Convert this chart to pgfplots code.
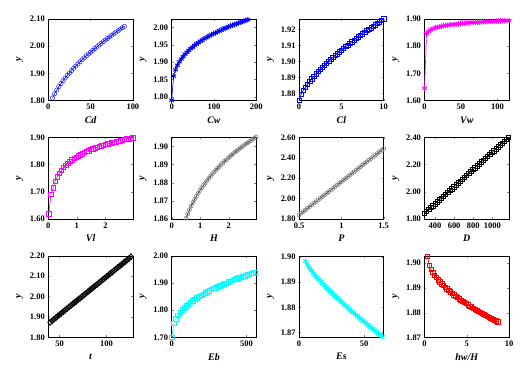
\documentclass[border=0pt]{standalone}
\usepackage{fontspec}
\setmainfont{Liberation Serif}
\usepackage{pgfplots}
\pgfplotsset{compat=1.18}
\definecolor{mblue}{RGB}{0,0,255}
\definecolor{mmag}{RGB}{255,0,255}
\definecolor{mcyan}{RGB}{0,255,255}
\definecolor{mred}{RGB}{255,0,0}
\begin{document}
\pgfplotsset{
  panel/.style={
    scale only axis, width=85pt, height=82pt, anchor=north west,
    tick align=inside, major tick length=2pt,
    /pgf/number format/assume math mode=true,
    /pgf/number format/1000 sep={},
    scaled ticks=false,
    ticklabel style={font=\fontsize{8.5}{9}\selectfont\bfseries},
    label style={font=\fontsize{10}{11}\selectfont\bfseries\itshape},
    ylabel={y},
    yticklabel style={/pgf/number format/.cd, fixed, fixed zerofill, precision=2},
    clip=false,
    every axis plot/.append style={line width=0.6pt},
  },
}
\begin{tikzpicture}
\path[use as bounding box] (0pt,0pt) rectangle (527pt,-377pt);
% row 1
\begin{axis}[panel, at={(46pt,-19pt)}, xmin=0, xmax=100, ymin=1.8, ymax=2.1,
  xtick={0,50,100}, ytick={1.8,1.9,2.0,2.1}, xlabel={Cd}]
\addplot[mblue, mark=o, mark size=2.2pt, mark options={line width=0.4pt}] coordinates {(5,1.8095)(7.5,1.8250)(10,1.8386)(12.5,1.8508)(15,1.8622)(17.5,1.8727)(20,1.8827)(22.5,1.8922)(25,1.9013)(27.5,1.9101)(30,1.9185)(32.5,1.9266)(35,1.9345)(37.5,1.9422)(40,1.9496)(42.5,1.9569)(45,1.9640)(47.5,1.9710)(50,1.9778)(52.5,1.9845)(55,1.9910)(57.5,1.9975)(60,2.0038)(62.5,2.0100)(65,2.0161)(67.5,2.0222)(70,2.0281)(72.5,2.0340)(75,2.0397)(77.5,2.0454)(80,2.0511)(82.5,2.0566)(85,2.0621)(87.5,2.0675)(90,2.0729)};
\end{axis}
\begin{axis}[panel, at={(170pt,-19pt)}, xmin=0, xmax=200, ymin=1.79, ymax=2.024,
  xtick={0,100,200}, ytick={1.80,1.85,1.90,1.95,2.00}, xlabel={Cw}]
\addplot[mblue, mark=asterisk, mark size=2.8pt, mark options={line width=0.9pt}] coordinates {(0,1.791)(4.5,1.860)(9,1.878)(13.5,1.891)(18,1.901)(22.5,1.909)(27,1.916)(31.5,1.923)(36,1.928)(40.5,1.934)(45,1.939)(49.5,1.943)(54,1.948)(58.5,1.952)(63,1.956)(67.5,1.960)(72,1.963)(76.5,1.967)(81,1.970)(85.5,1.973)(90,1.976)(94.5,1.979)(99,1.982)(103.5,1.984)(108,1.987)(112.5,1.990)(117,1.992)(121.5,1.995)(126,1.997)(130.5,1.999)(135,2.002)(139.5,2.004)(144,2.006)(148.5,2.008)(153,2.010)(157.5,2.012)(162,2.014)(166.5,2.016)(171,2.018)(175.5,2.020)(180,2.022)};
\end{axis}
\begin{axis}[panel, at={(298pt,-19pt)}, xmin=0, xmax=10, ymin=1.8755, ymax=1.9265,
  xtick={0,5,10}, ytick={1.88,1.89,1.90,1.91,1.92}, xlabel={Cl}]
\addplot[mblue, mark=square, mark size=2.2pt] coordinates {(0,1.8755)(0.25,1.8794)(0.5,1.8819)(0.75,1.8839)(1,1.8858)(1.25,1.8875)(1.5,1.8891)(1.75,1.8907)(2,1.8922)(2.25,1.8936)(2.5,1.8950)(2.75,1.8963)(3,1.8976)(3.25,1.8988)(3.5,1.9001)(3.75,1.9013)(4,1.9025)(4.25,1.9036)(4.5,1.9048)(4.75,1.9059)(5,1.9070)(5.25,1.9081)(5.5,1.9092)(5.75,1.9102)(6,1.9113)(6.25,1.9123)(6.5,1.9133)(6.75,1.9143)(7,1.9153)(7.25,1.9163)(7.5,1.9173)(7.75,1.9182)(8,1.9192)(8.25,1.9201)(8.5,1.9210)(8.75,1.9220)(9,1.9229)(9.25,1.9238)(9.5,1.9247)(9.75,1.9256)(10,1.9265)};
\end{axis}
\begin{axis}[panel, at={(424pt,-19pt)}, xmin=0, xmax=116, ymin=1.6, ymax=1.9,
  xtick={0,50,100}, ytick={1.6,1.7,1.8,1.9}, xlabel={Vw}]
\addplot[mmag, mark=asterisk, mark size=2.8pt, mark options={line width=0.9pt}] coordinates {(0,1.645)(2.9,1.846)(5.8,1.855)(8.7,1.860)(11.6,1.864)(14.5,1.867)(17.4,1.869)(20.3,1.871)(23.2,1.873)(26.1,1.875)(29,1.876)(31.9,1.877)(34.8,1.878)(37.7,1.879)(40.6,1.880)(43.5,1.881)(46.4,1.882)(49.3,1.883)(52.2,1.884)(55.1,1.884)(58,1.885)(60.9,1.886)(63.8,1.886)(66.7,1.887)(69.6,1.887)(72.5,1.888)(75.4,1.888)(78.3,1.889)(81.2,1.889)(84.1,1.890)(87,1.890)(89.9,1.891)(92.8,1.891)(95.7,1.891)(98.6,1.892)(101.5,1.892)(104.4,1.893)(107.3,1.893)(110.2,1.893)(113.1,1.894)(116,1.894)};
\end{axis}
% row 2
\begin{axis}[panel, at={(46pt,-138pt)}, xmin=0, xmax=2.96, ymin=1.6, ymax=1.9,
  xtick={0,1,2}, ytick={1.6,1.7,1.8,1.9}, xlabel={Vl}]
\addplot[mmag, mark=square, mark size=2.2pt] coordinates {(0.02,1.619)(0.0935,1.690)(0.167,1.714)(0.2405,1.738)(0.314,1.755)(0.3875,1.768)(0.461,1.779)(0.5345,1.789)(0.608,1.797)(0.6815,1.804)(0.755,1.811)(0.8285,1.817)(0.902,1.822)(0.9755,1.827)(1.049,1.832)(1.1225,1.836)(1.196,1.840)(1.2695,1.844)(1.343,1.848)(1.4165,1.851)(1.49,1.855)(1.5635,1.858)(1.637,1.861)(1.7105,1.863)(1.784,1.866)(1.8575,1.869)(1.931,1.871)(2.0045,1.874)(2.078,1.876)(2.1515,1.878)(2.225,1.880)(2.2985,1.882)(2.372,1.884)(2.4455,1.886)(2.519,1.888)(2.5925,1.890)(2.666,1.892)(2.7395,1.894)(2.813,1.895)(2.8865,1.897)(2.96,1.898)};
\end{axis}
\begin{axis}[panel, at={(170pt,-138pt)}, xmin=0, xmax=2.96, ymin=1.86, ymax=1.905,
  xtick={0,1,2}, ytick={1.86,1.87,1.88,1.89,1.90}, xlabel={H}]
\addplot[black, mark=o, mark size=2pt, mark options={draw=gray}] coordinates {(0.5,1.8604)(0.56125,1.8628)(0.6225,1.8651)(0.68375,1.8672)(0.745,1.8691)(0.80625,1.8709)(0.8675,1.8726)(0.92875,1.8742)(0.99,1.8758)(1.05125,1.8772)(1.1125,1.8786)(1.17375,1.8799)(1.235,1.8812)(1.29625,1.8824)(1.3575,1.8836)(1.41875,1.8847)(1.48,1.8858)(1.54125,1.8869)(1.6025,1.8879)(1.66375,1.8889)(1.725,1.8899)(1.78625,1.8908)(1.8475,1.8918)(1.90875,1.8926)(1.97,1.8935)(2.03125,1.8944)(2.0925,1.8952)(2.15375,1.8960)(2.215,1.8968)(2.27625,1.8976)(2.3375,1.8983)(2.39875,1.8991)(2.46,1.8998)(2.52125,1.9005)(2.5825,1.9012)(2.64375,1.9019)(2.705,1.9026)(2.76625,1.9032)(2.8275,1.9039)(2.88875,1.9045)(2.95,1.9051)};
\end{axis}
\begin{axis}[panel, at={(298pt,-138pt)}, xmin=0.5, xmax=1.5, ymin=1.8, ymax=2.6,
  xtick={0.5,1,1.5}, ytick={1.8,2.0,2.2,2.4,2.6}, xlabel={P}]
\addplot[black, mark=o, mark size=2pt, mark options={draw=gray}] coordinates {(0.5,1.8400)(0.525,1.8563)(0.55,1.8725)(0.575,1.8888)(0.6,1.9050)(0.625,1.9213)(0.65,1.9375)(0.675,1.9538)(0.7,1.9700)(0.725,1.9863)(0.75,2.0025)(0.775,2.0188)(0.8,2.0350)(0.825,2.0513)(0.85,2.0675)(0.875,2.0838)(0.9,2.1000)(0.925,2.1163)(0.95,2.1325)(0.975,2.1488)(1.0,2.1650)(1.025,2.1813)(1.05,2.1975)(1.075,2.2138)(1.1,2.2300)(1.125,2.2463)(1.15,2.2625)(1.175,2.2788)(1.2,2.2950)(1.225,2.3113)(1.25,2.3275)(1.275,2.3438)(1.3,2.3600)(1.325,2.3763)(1.35,2.3925)(1.375,2.4088)(1.4,2.4250)(1.425,2.4413)(1.45,2.4575)(1.475,2.4738)(1.5,2.4900)};
\end{axis}
\begin{axis}[panel, at={(424pt,-138pt)}, xmin=290, xmax=1175, ymin=1.8, ymax=2.4,
  xtick={400,600,800,1000}, ytick={1.8,2.0,2.2,2.4}, xlabel={D}]
\addplot[black, mark=square, mark size=2.2pt] coordinates {(290,1.842)(312,1.856)(334,1.870)(356,1.884)(378,1.898)(400,1.912)(422,1.926)(444,1.940)(466,1.954)(488,1.968)(510,1.982)(532,1.995)(554,2.009)(576,2.023)(598,2.037)(620,2.051)(642,2.065)(664,2.079)(686,2.093)(708,2.107)(730,2.121)(752,2.135)(774,2.149)(796,2.163)(818,2.177)(840,2.191)(862,2.205)(884,2.219)(906,2.233)(928,2.247)(950,2.261)(972,2.274)(994,2.288)(1016,2.302)(1038,2.316)(1060,2.330)(1082,2.344)(1104,2.358)(1126,2.372)(1148,2.386)(1170,2.400)};
\end{axis}
% row 3
\begin{axis}[panel, at={(46pt,-257pt)}, xmin=38, xmax=128, ymin=1.8, ymax=2.2,
  xtick={50,100}, ytick={1.8,1.9,2.0,2.1,2.2}, xlabel={t}]
\addplot[black, mark=diamond, mark size=3pt, mark options={line width=0.9pt}] coordinates {(40,1.874)(42,1.881)(44,1.889)(46,1.896)(48,1.904)(50,1.911)(52,1.919)(54,1.926)(56,1.934)(58,1.941)(60,1.949)(62,1.956)(64,1.964)(66,1.971)(68,1.978)(70,1.986)(72,1.993)(74,2.001)(76,2.008)(78,2.016)(80,2.023)(82,2.031)(84,2.038)(86,2.046)(88,2.053)(90,2.060)(92,2.068)(94,2.075)(96,2.083)(98,2.090)(100,2.098)(102,2.105)(104,2.113)(106,2.120)(108,2.128)(110,2.135)(112,2.143)(114,2.150)(116,2.157)(118,2.165)(120,2.172)(122,2.180)(124,2.187)(126,2.195)};
\end{axis}
\begin{axis}[panel, at={(170pt,-257pt)}, xmin=0, xmax=565, ymin=1.7, ymax=2.0,
  xtick={0,500}, ytick={1.7,1.8,1.9,2.0}, xlabel={Eb}]
\addplot[mcyan, mark=square, mark size=2.2pt] coordinates {(0,1.700)(14,1.751)(28,1.769)(42,1.781)(56,1.792)(70,1.801)(84,1.809)(98,1.816)(112,1.822)(126,1.829)(140,1.834)(154,1.840)(168,1.845)(182,1.850)(196,1.855)(210,1.859)(224,1.864)(238,1.868)(252,1.872)(266,1.876)(280,1.880)(294,1.883)(308,1.887)(322,1.890)(336,1.894)(350,1.897)(364,1.900)(378,1.904)(392,1.907)(406,1.910)(420,1.913)(434,1.916)(448,1.919)(462,1.921)(476,1.924)(490,1.927)(504,1.930)(518,1.932)(532,1.935)(546,1.937)(560,1.940)};
\end{axis}
\begin{axis}[panel, at={(298pt,-257pt)}, xmin=0, xmax=65, ymin=1.868, ymax=1.9005,
  xtick={0,50}, ytick={1.87,1.88,1.89,1.90}, xlabel={Es}]
\addplot[mcyan, mark=asterisk, mark size=3pt, mark options={line width=1pt}] coordinates {(5,1.8983)(6.5,1.8968)(7.9,1.8956)(9.4,1.8946)(10.9,1.8936)(12.4,1.8927)(13.9,1.8918)(15.3,1.8910)(16.8,1.8901)(18.3,1.8893)(19.8,1.8885)(21.2,1.8877)(22.7,1.8869)(24.2,1.8862)(25.7,1.8854)(27.1,1.8847)(28.6,1.8840)(30.1,1.8833)(31.6,1.8826)(33.0,1.8819)(34.5,1.8812)(36.0,1.8805)(37.5,1.8798)(38.9,1.8791)(40.4,1.8784)(41.9,1.8778)(43.4,1.8771)(44.8,1.8765)(46.3,1.8758)(47.8,1.8752)(49.3,1.8745)(50.7,1.8739)(52.2,1.8732)(53.7,1.8726)(55.2,1.8720)(56.6,1.8714)(58.1,1.8708)(59.6,1.8701)(61.1,1.8695)(62.5,1.8689)(64,1.8683)};
\end{axis}
\begin{axis}[panel, at={(424pt,-257pt)}, xmin=0, xmax=10, ymin=1.87, ymax=1.903,
  xtick={0,5,10}, ytick={1.87,1.88,1.89,1.90}, xlabel={hw/H}]
\addplot[mred, mark=square, mark size=2.2pt] coordinates {(0.36,1.9027)(0.568,1.8992)(0.776,1.8976)(0.984,1.8963)(1.192,1.8952)(1.4,1.8942)(1.608,1.8933)(1.816,1.8925)(2.024,1.8917)(2.232,1.8910)(2.44,1.8903)(2.648,1.8897)(2.856,1.8890)(3.064,1.8884)(3.272,1.8878)(3.48,1.8872)(3.688,1.8867)(3.896,1.8862)(4.104,1.8856)(4.312,1.8851)(4.52,1.8846)(4.728,1.8841)(4.936,1.8837)(5.144,1.8832)(5.352,1.8827)(5.56,1.8823)(5.768,1.8818)(5.976,1.8814)(6.184,1.8810)(6.392,1.8806)(6.6,1.8801)(6.808,1.8797)(7.016,1.8793)(7.224,1.8789)(7.432,1.8785)(7.64,1.8782)(7.848,1.8778)(8.056,1.8774)(8.264,1.8770)(8.472,1.8767)(8.68,1.8763)};
\end{axis}
\end{tikzpicture}
\end{document}
